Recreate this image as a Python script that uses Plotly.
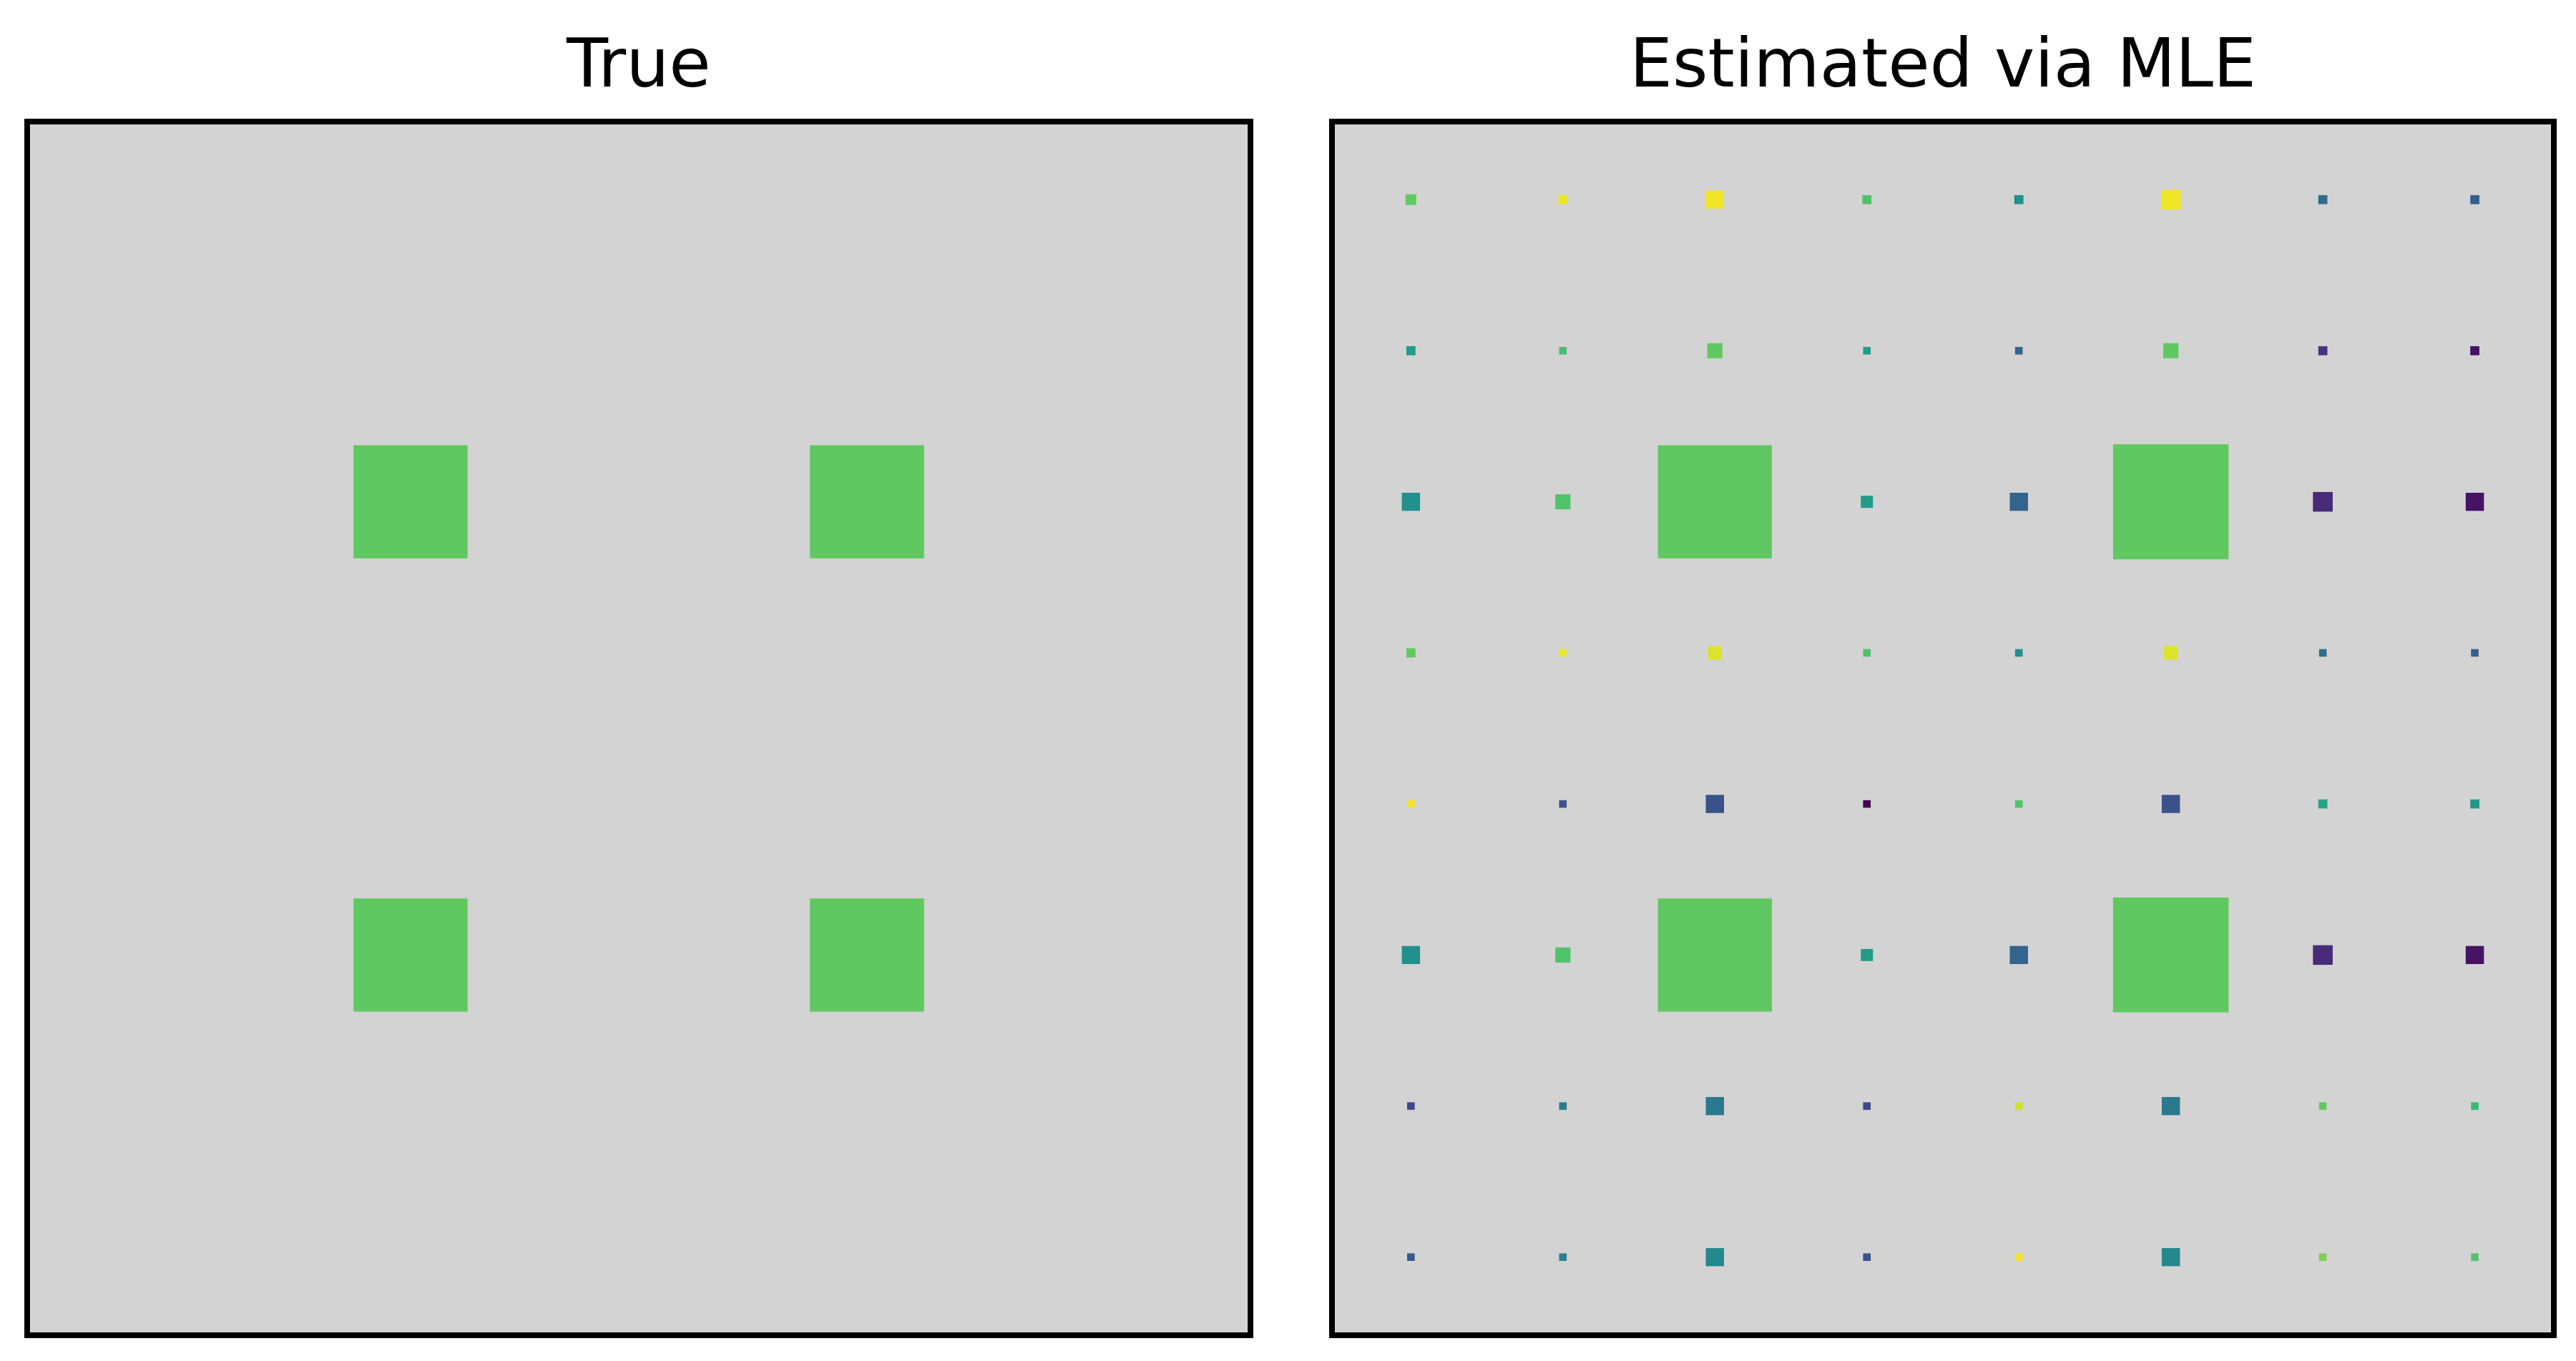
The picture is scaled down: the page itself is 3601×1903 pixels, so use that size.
import plotly.graph_objects as go
from plotly.colors import sample_colorscale

n = 8
# True matrix: side length (fraction of cell) and viridis colour value
true_size = [[0.75 if (r in (2, 5) and c in (2, 5)) else 0.0 for c in range(n)] for r in range(n)]
true_color = [[0.75] * n for _ in range(n)]

est_size = [
    [0.07, 0.06, 0.12, 0.06, 0.06, 0.13, 0.06, 0.06],
    [0.06, 0.05, 0.10, 0.05, 0.05, 0.10, 0.06, 0.06],
    [0.12, 0.10, 0.75, 0.08, 0.12, 0.76, 0.13, 0.12],
    [0.06, 0.05, 0.09, 0.05, 0.05, 0.09, 0.05, 0.05],
    [0.05, 0.05, 0.12, 0.05, 0.05, 0.12, 0.06, 0.06],
    [0.12, 0.10, 0.75, 0.08, 0.12, 0.76, 0.13, 0.12],
    [0.05, 0.05, 0.12, 0.05, 0.05, 0.12, 0.05, 0.05],
    [0.05, 0.05, 0.12, 0.05, 0.05, 0.12, 0.05, 0.05],
]
est_color = [
    [0.75, 0.97, 0.98, 0.72, 0.50, 0.98, 0.35, 0.30],
    [0.55, 0.70, 0.75, 0.55, 0.32, 0.75, 0.15, 0.05],
    [0.50, 0.72, 0.75, 0.55, 0.32, 0.75, 0.12, 0.05],
    [0.75, 0.97, 0.95, 0.72, 0.50, 0.95, 0.35, 0.30],
    [0.98, 0.25, 0.25, 0.00, 0.72, 0.25, 0.58, 0.52],
    [0.50, 0.72, 0.75, 0.55, 0.32, 0.75, 0.12, 0.05],
    [0.22, 0.42, 0.40, 0.22, 0.93, 0.40, 0.75, 0.68],
    [0.28, 0.45, 0.47, 0.25, 0.98, 0.47, 0.80, 0.72],
]
titles = ["True", "Estimated via MLE"]

fig = go.Figure()
shapes = []
for k, (S, C) in enumerate([(true_size, true_color), (est_size, est_color)]):
    xr, yr = ("x", "y") if k == 0 else ("x2", "y2")
    for r in range(n):
        for c in range(n):
            s = S[r][c]
            if s <= 0:
                continue
            col = sample_colorscale("Viridis", [C[r][c]])[0]
            shapes.append(dict(type="rect", xref=xr, yref=yr,
                               x0=c - s / 2, x1=c + s / 2, y0=r - s / 2, y1=r + s / 2,
                               fillcolor=col, line=dict(width=0), layer="above"))
    fig.add_trace(go.Scatter(x=[None], y=[None], xaxis=xr, yaxis=yr, showlegend=False))

ax = dict(range=[-0.5, 7.5], showgrid=False, zeroline=False, showticklabels=False,
          ticks="", showline=True, linecolor="black", linewidth=8, mirror=True)
ay = dict(ax, range=[7.5, -0.5])
fig.update_layout(
    width=3601, height=1903, margin=dict(l=0, r=0, t=0, b=0, autoexpand=False),
    paper_bgcolor="white", plot_bgcolor="#d3d3d3", shapes=shapes,
    xaxis=dict(ax, domain=[0.0095, 0.482], anchor="y"),
    yaxis=dict(ay, domain=[0.025, 0.913], anchor="x"),
    xaxis2=dict(ax, domain=[0.516, 0.988], anchor="y2"),
    yaxis2=dict(ay, domain=[0.025, 0.913], anchor="x2"),
    annotations=[
        dict(text=titles[0], x=0.2457, y=0.958, xref="paper", yref="paper", showarrow=False,
             font=dict(family="DejaVu Sans", size=95, color="black"), xanchor="center", yanchor="middle"),
        dict(text=titles[1], x=0.752, y=0.958, xref="paper", yref="paper", showarrow=False,
             font=dict(family="DejaVu Sans", size=95, color="black"), xanchor="center", yanchor="middle"),
    ],
)
fig.write_html("out.html")
